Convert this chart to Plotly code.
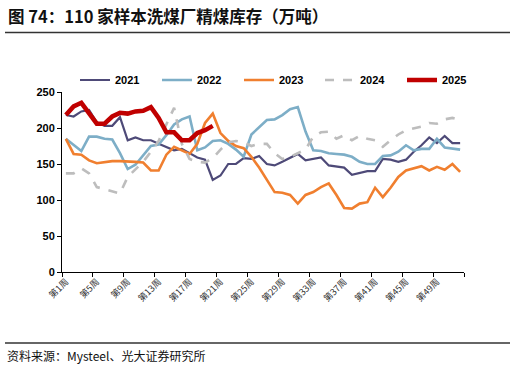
import plotly.graph_objects as go

weeks = [f"第{i}周" for i in range(1, 53)]

s2021 = [218,216,223,225,208,203,203,215,183,187,183,183,178,173,169,171,165,159,156,128,
         134,150,150,158,157,161,150,148,153,158,164,155,157,159,148,146,145,135,138,140,
         140,157,156,153,156,167,176,187,179,189,179,179]
s2022 = [185,176,168,188,188,185,184,165,143,149,162,175,177,190,205,212,216,169,173,182,
         183,178,170,160,191,201,211,212,218,226,229,195,169,168,165,164,163,160,153,150,
         150,161,162,167,176,169,171,171,185,173,171,170]
s2023 = [185,164,163,155,151,153,154,154,154,153,152,141,141,163,174,169,164,178,207,220,
         193,182,175,172,160,145,127,111,110,107,95,107,111,118,123,107,89,88,95,97,
         117,104,117,132,141,144,147,141,146,142,150,139]
s2024 = [137,137,144,137,118,115,112,109,132,142,153,167,182,205,228,178,157,153,152,158,
         170,180,182,180,175,178,178,165,157,160,165,170,188,194,195,185,190,183,189,185,
         183,174,183,191,197,200,202,207,206,212,214,211]
s2025 = [218,230,235,220,206,206,216,221,220,223,224,229,214,194,194,183,183,193,197,203]

series = [
    ("2021", s2021, "#4E4A78", 2.2, "solid"),
    ("2022", s2022, "#7DAEC7", 2.6, "solid"),
    ("2023", s2023, "#F07F2F", 2.6, "solid"),
    ("2024", s2024, "#BDBDBD", 2.6, "dash"),
    ("2025", s2025, "#C00000", 4.5, "solid"),
]

L, R, T, B = 62, 52, 92, 93
pw, ph = 516 - L - R, 365 - T - B

def px_x(x):
    return (x - L) / pw

def px_y(y):
    return (365 - B - y) / ph

legend_left = [75, 157, 239, 320, 402]

fig = go.Figure()
layout_legends = {}
for i, (name, vals, color, w, dash) in enumerate(series):
    lg = "legend" if i == 0 else f"legend{i+1}"
    fig.add_trace(go.Scatter(
        x=weeks[:len(vals)], y=vals, name=name, mode="lines",
        line=dict(color=color, width=w, dash=dash), legend=lg,
    ))
    layout_legends[lg] = dict(
        orientation="h", x=px_x(legend_left[i]), xanchor="left",
        y=px_y(80), yanchor="middle",
        font=dict(family="Liberation Sans, Arial", size=11, color="#000", weight="bold"),
        bgcolor="rgba(0,0,0,0)", itemclick=False, itemdoubleclick=False,
    )

fig.update_layout(
    width=516, height=365,
    margin=dict(l=L, r=R, t=T, b=B, autoexpand=False),
    paper_bgcolor="white", plot_bgcolor="white",
    font=dict(family="Liberation Sans, Arial", color="#000"),
    showlegend=True,
    hovermode=False,
    xaxis=dict(
        type="category", categoryorder="array", categoryarray=weeks,
        range=[-0.5, 51.5], tickmode="linear", tick0=0, dtick=4,
        tickson="boundaries", ticks="outside", ticklen=4, tickcolor="#000",
        showline=True, linecolor="#000", linewidth=1, showgrid=False,
        automargin=False,
        tickangle=-45, tickfont=dict(family="Noto Sans CJK SC", size=9, color="#333"),
    ),
    yaxis=dict(
        range=[0, 250], tickmode="linear", tick0=0, dtick=50,
        ticks="outside", ticklen=4, tickcolor="#000",
        showline=True, linecolor="#000", linewidth=1, showgrid=False, zeroline=False,
        automargin=False,
        tickfont=dict(family="Liberation Sans, Arial", size=11, color="#000", weight="bold"),
    ),
    **layout_legends,
)

fig.add_annotation(
    text="图 74：110 家样本洗煤厂精煤库存（万吨）",
    xref="paper", yref="paper", x=px_x(6), y=px_y(16), xanchor="left", yanchor="middle",
    showarrow=False, font=dict(family="Noto Sans CJK SC", size=16.5, color="#111", weight="bold"),
)
fig.add_annotation(
    text="资料来源：Mysteel、光大证券研究所",
    xref="paper", yref="paper", x=px_x(5), y=px_y(355), xanchor="left", yanchor="middle",
    showarrow=False, font=dict(family="Noto Sans CJK SC", size=12, color="#111"),
)
for yy in (32.5, 343):
    fig.add_shape(type="line", xref="paper", yref="paper",
                  x0=px_x(5), x1=px_x(510), y0=px_y(yy), y1=px_y(yy),
                  line=dict(color="#333", width=1.3))

fig.write_html("out.html", config={"displayModeBar": False},
               post_script="document.body.style.margin='0';document.body.style.overflow='hidden';")
